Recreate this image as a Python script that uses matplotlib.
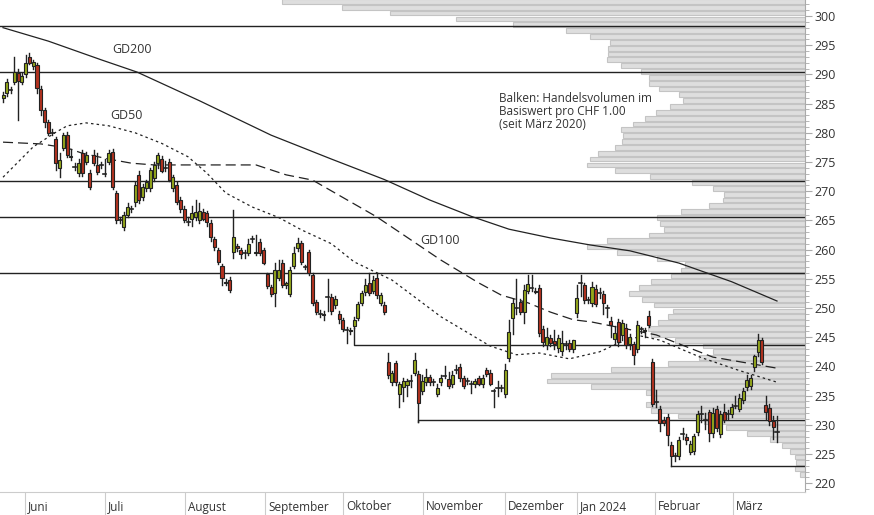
import matplotlib
matplotlib.use("Agg")
import matplotlib.pyplot as plt
import matplotlib.transforms as mtrans
from matplotlib.patches import Rectangle

plt.rcParams['font.family'] = ['Open Sans', 'DejaVu Sans']

# daily candles (open, high, low, close), mid May 2023 .. mid March 2024
candles = [
    (286.0, 287.0, 285.2, 286.5), (286.8, 289.2, 286.3, 288.7), (287.4, 287.8, 286.8, 287.3),
    (288.7, 293.0, 288.3, 290.4), (290.2, 291.0, 282.2, 288.9), (288.7, 290.2, 288.3, 289.7),
    (290.0, 293.3, 289.6, 292.0), (293.0, 293.6, 291.8, 292.0), (291.4, 292.5, 291.0, 292.1),
    (291.6, 292.0, 286.8, 287.7), (287.5, 288.0, 283.0, 283.9), (283.9, 284.3, 281.0, 281.8),
    (281.8, 282.2, 279.6, 280.0), (280.1, 280.6, 279.7, 280.0), (279.0, 279.3, 273.6, 274.8),
    (274.0, 276.5, 272.4, 275.3), (277.4, 280.0, 277.0, 279.6), (279.6, 280.2, 275.8, 276.2),
    (276.0, 277.2, 275.4, 275.8), (274.2, 274.8, 273.6, 274.1), (273.1, 275.5, 272.6, 274.8),
    (276.5, 277.0, 272.6, 273.1), (275.0, 276.8, 274.6, 276.2), (273.1, 273.6, 270.4, 270.7),
    (276.2, 277.0, 274.5, 274.8), (274.5, 276.5, 273.0, 273.3), (274.4, 275.0, 274.0, 274.5),
    (273.1, 275.5, 272.6, 273.0), (275.0, 277.0, 274.6, 276.5), (276.7, 277.2, 270.3, 270.7),
    (269.7, 270.1, 264.6, 265.1), (265.2, 265.5, 264.6, 265.1), (263.9, 266.5, 263.4, 265.9),
    (266.0, 268.0, 265.5, 267.3), (267.0, 267.4, 266.5, 266.9), (268.2, 271.5, 267.5, 271.0),
    (272.8, 273.5, 268.0, 268.5), (269.0, 271.3, 268.5, 270.7), (270.5, 272.0, 270.0, 271.5),
    (270.5, 274.0, 270.0, 273.6), (272.3, 275.0, 271.8, 274.5), (274.8, 276.5, 274.0, 276.2),
    (275.5, 276.0, 273.3, 273.5), (274.0, 275.2, 273.5, 274.0), (275.0, 275.5, 271.8, 272.0),
    (270.5, 272.8, 270.0, 272.5), (271.0, 271.5, 267.8, 268.2), (268.5, 269.0, 266.5, 267.0),
    (267.0, 267.5, 264.8, 265.1), (264.7, 265.5, 264.2, 264.7), (265.3, 267.5, 264.0, 266.3),
    (265.6, 268.5, 265.0, 266.4), (265.0, 268.0, 264.5, 266.6), (266.4, 267.0, 265.0, 265.3),
    (266.2, 266.6, 264.0, 264.7), (264.5, 265.0, 261.5, 262.2), (261.8, 262.2, 260.0, 260.4),
    (259.9, 260.3, 257.5, 257.9), (257.2, 257.6, 254.0, 255.1), (254.5, 255.0, 254.0, 254.3),
    (254.8, 255.3, 252.8, 253.1), (259.6, 266.7, 258.5, 262.2), (260.6, 261.0, 259.8, 260.3),
    (259.9, 260.2, 258.5, 259.3), (259.4, 259.9, 258.5, 259.4), (259.4, 261.8, 259.0, 261.0),
    (261.8, 262.3, 261.3, 261.8), (259.4, 262.5, 259.0, 259.6), (261.3, 261.8, 259.0, 259.4),
    (259.9, 260.3, 257.5, 257.7), (255.8, 256.0, 253.5, 253.8), (253.6, 254.0, 252.0, 252.4),
    (252.6, 257.7, 250.3, 256.5), (255.1, 258.2, 254.8, 256.5), (257.7, 258.3, 253.6, 253.9),
    (253.9, 254.5, 253.5, 254.2), (252.4, 257.0, 252.0, 256.5), (257.2, 260.5, 256.8, 259.4),
    (260.3, 262.0, 259.8, 261.2), (261.2, 261.5, 257.5, 257.9), (257.0, 257.4, 256.6, 257.0),
    (259.6, 260.0, 255.6, 256.0), (255.7, 256.0, 250.6, 250.9), (251.0, 251.4, 248.9, 249.3),
    (249.0, 249.6, 248.5, 249.0), (249.0, 249.5, 248.0, 248.8), (251.9, 255.0, 249.5, 251.9),
    (251.9, 252.4, 249.0, 249.5), (250.5, 252.0, 250.0, 251.5), (249.0, 249.5, 247.5, 248.1),
    (247.9, 248.3, 246.0, 246.4), (246.4, 246.8, 244.0, 246.3), (246.0, 246.6, 245.5, 246.2),
    (247.0, 248.5, 246.5, 248.0), (248.3, 251.0, 248.0, 250.7), (250.9, 253.0, 250.5, 252.6),
    (252.7, 255.0, 252.3, 254.0), (254.3, 256.0, 252.2, 252.6), (253.0, 255.5, 252.5, 254.8),
    (255.1, 256.0, 251.8, 252.2), (250.9, 252.6, 250.5, 252.3), (250.5, 251.0, 249.0, 249.3),
    (240.8, 242.3, 238.0, 238.5), (237.3, 239.3, 236.8, 238.9), (240.6, 241.0, 236.8, 237.3),
    (235.3, 237.4, 233.0, 237.0), (236.5, 238.0, 234.0, 237.5), (236.8, 237.8, 235.0, 237.5),
    (237.5, 238.5, 236.5, 237.5), (238.9, 242.3, 238.5, 241.1), (238.7, 239.2, 230.5, 233.7),
    (235.8, 238.5, 235.3, 237.5), (237.3, 239.5, 236.8, 238.2), (238.2, 238.6, 236.8, 237.3),
    (237.3, 237.8, 236.8, 237.3), (235.3, 237.0, 235.0, 236.3), (237.3, 238.5, 236.8, 238.1),
    (238.4, 240.0, 238.0, 238.4), (237.8, 239.0, 236.3, 236.6), (237.0, 239.2, 236.5, 238.5),
    (239.4, 240.3, 238.8, 239.4), (239.9, 240.4, 237.5, 238.0), (238.0, 238.4, 236.3, 236.6),
    (237.5, 238.0, 237.0, 237.5), (237.0, 237.5, 235.5, 237.0), (237.0, 237.8, 236.5, 237.5),
    (238.0, 238.4, 236.8, 237.0), (237.0, 238.5, 236.5, 238.1), (239.4, 239.8, 238.3, 238.7),
    (238.9, 239.4, 236.8, 237.0), (235.8, 236.2, 233.0, 235.8), (236.3, 237.5, 235.0, 236.3),
    (236.3, 236.8, 235.8, 236.3), (235.3, 240.5, 234.8, 239.4), (241.4, 248.0, 241.0, 245.9),
    (248.3, 251.5, 245.5, 250.9), (250.0, 255.0, 249.0, 250.0), (251.0, 251.5, 249.0, 249.3),
    (249.3, 254.0, 247.5, 253.1), (252.9, 255.7, 252.5, 254.1), (253.5, 255.7, 253.0, 253.5),
    (253.0, 253.5, 252.5, 252.7), (253.4, 254.0, 245.2, 245.7), (246.4, 247.0, 243.5, 244.2),
    (243.7, 246.5, 243.0, 245.0), (244.8, 245.3, 243.5, 244.0), (244.3, 246.3, 243.0, 243.8),
    (243.2, 245.3, 242.5, 244.9), (242.7, 246.0, 242.0, 244.0), (243.8, 244.3, 243.0, 243.8),
    (244.0, 244.5, 242.7, 243.0), (243.0, 244.5, 242.5, 244.5), (249.1, 254.0, 248.5, 251.7),
    (254.3, 255.7, 252.0, 254.3), (253.9, 254.3, 250.8, 251.4), (251.4, 251.9, 250.9, 251.4),
    (250.9, 254.5, 250.3, 253.6), (253.3, 254.0, 250.3, 250.7), (252.6, 253.5, 251.8, 252.6),
    (252.4, 253.0, 249.0, 250.9), (250.0, 250.5, 248.5, 250.0), (247.8, 248.5, 245.0, 247.1),
    (244.7, 247.0, 244.0, 245.7), (247.6, 248.2, 243.5, 244.2), (245.3, 248.0, 244.5, 247.5),
    (246.6, 247.2, 243.2, 243.7), (243.8, 245.5, 243.0, 245.0), (243.8, 244.2, 240.5, 242.0),
    (243.0, 247.8, 242.5, 247.1), (246.4, 246.8, 245.8, 246.4), (246.0, 246.5, 245.0, 246.3),
    (248.6, 249.5, 246.8, 247.1), (240.8, 241.2, 233.3, 233.6), (233.9, 236.0, 233.0, 233.9),
    (232.7, 233.2, 229.0, 230.3), (230.9, 231.4, 230.0, 230.3), (231.3, 231.8, 226.5, 228.3),
    (226.5, 227.0, 223.0, 224.7), (224.7, 225.2, 223.8, 224.7), (224.7, 228.0, 224.2, 227.4),
    (228.4, 229.5, 227.5, 228.4), (228.0, 228.5, 226.8, 227.4), (225.3, 227.3, 225.0, 226.7),
    (225.5, 228.5, 225.0, 228.1), (228.8, 232.3, 228.3, 231.8), (231.8, 233.2, 230.5, 231.8),
    (230.8, 232.0, 229.3, 230.8), (232.2, 232.6, 227.3, 228.6), (228.6, 232.8, 228.0, 232.0),
    (232.7, 233.2, 229.0, 229.5), (228.5, 232.3, 228.0, 231.8), (232.2, 233.5, 230.5, 230.8),
    (231.8, 232.5, 231.0, 231.8), (231.8, 233.5, 231.3, 233.0), (233.3, 235.0, 232.8, 233.3),
    (232.7, 235.2, 232.3, 234.6), (234.3, 236.3, 233.8, 235.8), (236.5, 238.5, 236.0, 237.7),
    (236.6, 238.5, 236.2, 238.1), (239.9, 242.0, 239.2, 241.8), (242.5, 245.5, 241.8, 244.5),
    (244.5, 244.8, 240.5, 240.8), (233.4, 235.0, 231.0, 232.2), (232.9, 233.5, 230.0, 230.6),
    (230.6, 231.5, 227.5, 229.6), (228.8, 231.5, 227.1, 228.8),
]

# moving averages: (candle index, value)
gd200 = [(0, 298.0), (12, 295.7), (26, 292.5), (35.5, 290.4), (52, 285.5), (71, 279.6),
         (87, 275.5), (101, 272.0), (113, 268.5), (124, 265.7), (134, 263.5), (145, 262.0),
         (155.5, 260.8), (166, 259.8), (179, 257.7), (193, 254.5), (205, 251.2)]
gd50 = [(0, 272.4), (8, 277.6), (14, 280.1), (17, 281.2), (22, 281.7), (28, 281.2), (35, 280.0),
        (42, 278.2), (49, 275.9), (54, 273.1), (59, 269.7), (66, 267.3), (73, 265.5), (79, 263.4),
        (87, 261.0), (93, 257.9), (103, 254.8), (116, 248.5), (129, 243.5), (136, 242.0),
        (142, 242.3), (150, 241.3), (158, 242.5), (163, 244.0), (169, 245.2), (174, 244.5),
        (185, 241.5), (195, 239.3), (205, 237.3)]
gd100 = [(0, 278.4), (10, 278.1), (17, 277.4), (21, 276.5), (28, 275.5), (34, 274.8), (40, 274.5),
         (67, 274.5), (75, 272.8), (82, 271.9), (99, 265.6), (116, 258.2), (126, 254.3),
         (132, 252.2), (139, 250.9), (145, 249.3), (151, 248.0), (156, 247.6), (173, 245.4),
         (188, 241.6), (205, 239.7)]

# horizontal levels: (value, start index)
levels = [(298.3, -1), (290.4, -1), (271.8, -1), (265.6, -1), (256.0, -1),
          (243.7, 93), (230.9, 110), (222.9, 177)]

# volume profile: lower price of each 1-CHF band, bar length (px units)
vp_price = list(range(302, 220, -1))
vp_len = [523, 463, 415, 349, 292, 239, 215, 195, 197, 197, 198, 184, 164, 156, 156, 146,
          126, 122, 135, 149, 160, 172, 184, 182, 183, 190, 207, 215, 218, 190, 155, 113,
          92, 81, 82, 96, 124, 148, 145, 141, 156, 198, 218, 188, 148, 120, 124, 134, 154,
          166, 176, 163, 151, 132, 137, 147, 157, 154, 130, 102, 92, 106, 137, 194, 254,
          258, 214, 159, 151, 159, 154, 127, 101, 79, 58, 35, 23, 15, 10, 9, 10, 5]

months = ['Juni', 'Juli', 'August', 'September', 'Oktober', 'November', 'Dezember',
          'Jan 2024', 'Februar', 'März']
month_idx = [5.8, 27, 48.2, 69.4, 90, 111.2, 133, 152, 172.7, 193.3]

W, H = 874, 515
fig = plt.figure(figsize=(W / 100, H / 100), dpi=100)
rect = [0, 23 / H, 805 / W, 492 / H]
ylo, yhi = 218.5, 302.74

# volume profile underneath
axp = fig.add_axes(rect)
axp.barh([p + 0.5 for p in vp_price], vp_len, height=0.82, left=0,
         color='#dedede', edgecolor='#c4c4c4', linewidth=0.8)
axp.set_xlim(805, 0)
axp.set_ylim(ylo, yhi)
axp.axis('off')

ax = fig.add_axes(rect)
ax.patch.set_alpha(0)
n = len(candles)
ax.set_xlim(-0.8, n - 1 + 28 / 3.776)
ax.set_ylim(ylo, yhi)

for i, (o, h, l, c) in enumerate(candles):
    ax.plot([i, i], [l, h], color='#222222', lw=1.0, zorder=3)
    col = '#95a81b' if c >= o else '#b3321f'
    lo, hi = min(o, c), max(o, c)
    if hi - lo < 0.15:
        ax.plot([i - 0.4, i + 0.4], [c, c], color='#222222', lw=1.2, zorder=4)
    else:
        ax.add_patch(Rectangle((i - 0.4, lo), 0.8, hi - lo, facecolor=col,
                               edgecolor='#222222', lw=0.8, zorder=4))

for v, s in levels:
    if s < 0:
        ax.plot([-1, n + 10], [v, v], color='#222222', lw=1.0, zorder=2)
    else:
        ax.plot([s, s, n + 10], [candles[s][2], v, v], color='#222222', lw=1.0, zorder=2)

ax.plot(*zip(*gd200), color='#222222', lw=0.9, zorder=2)
ax.plot(*zip(*gd50), color='#222222', lw=0.9, ls=(0, (2, 2.5)), zorder=2)
ax.plot(*zip(*gd100), color='#222222', lw=0.9, ls=(0, (8, 4)), zorder=2)

tc = '#333333'
ax.text(29.0, 294.2, 'GD200', fontsize=9, color=tc, va='center')
ax.text(28.3, 282.9, 'GD50', fontsize=9, color=tc, va='center')
ax.text(110.6, 261.6, 'GD100', fontsize=9, color=tc, va='center')
ax.text(131.3, 287.0, 'Balken: Handelsvolumen im\nBasiswert pro CHF 1.00\n(seit März 2020)',
        fontsize=8.5, color=tc, va='top', linespacing=1.0)

# axes styling
for sp in ['top', 'left']:
    ax.spines[sp].set_visible(False)
ax.spines['right'].set_color('#aaaaaa')
ax.spines['bottom'].set_color('#cccccc')
ax.yaxis.tick_right()
ax.set_yticks(range(220, 301, 5))
ax.set_yticks(range(219, 303), minor=True)
ax.tick_params(axis='y', which='major', length=5, color='#aaaaaa', labelsize=9,
               labelcolor=tc, pad=2)
ax.tick_params(axis='y', which='minor', length=3, color='#aaaaaa')

ax.set_xticks(month_idx)
ax.set_xticklabels([])
ax.tick_params(axis='x', length=23 * 0.72, color='#cccccc', width=0.8)
trans = mtrans.blended_transform_factory(ax.transData, ax.transAxes)
off = mtrans.ScaledTranslation(3 / 100, -15 / 100, fig.dpi_scale_trans)
for m, x in zip(months, month_idx):
    ax.text(x, 0, m, transform=trans + off, fontsize=8.5, color=tc, ha='left', va='center')

fig.savefig('out.png', dpi=100)
